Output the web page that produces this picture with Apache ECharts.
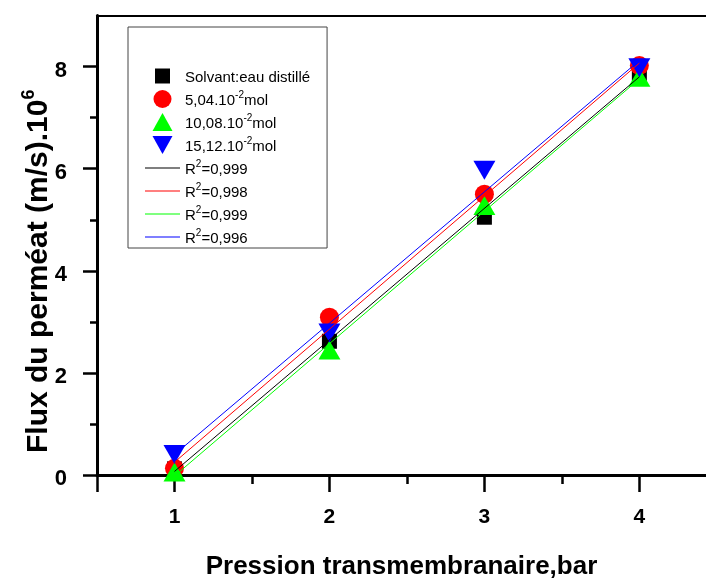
<!DOCTYPE html>
<html>

<head>
    <meta charset="utf-8">
    <title>Flux du perméat</title>
    <script src="https://cdn.jsdelivr.net/npm/echarts@6/dist/echarts.min.js"></script>
    <style>
        html, body { margin: 0; padding: 0; background: #fff; }
        #chart { width: 706px; height: 578px; }
    </style>
</head>

<body>
    <div id="chart"></div>

    <script type="text/javascript">
        // pressure (bar) and measured flux (m/s).10^6
        var pressure = [1, 2, 3, 4];
        var fluxSolvant = [0.12, 2.62, 5.05, 7.87];
        var flux504 = [0.13, 3.09, 5.50, 8.02];
        var flux1008 = [0.06, 2.45, 5.28, 7.79];
        var flux1512 = [0.40, 2.78, 5.97, 7.98];

        // fitted lines, values read at p=1 and p=4
        var fitX = [1, 4];
        var fitSolvant = [0.07, 7.80];
        var fit504 = [0.25, 8.07];
        var fit1008 = [-0.02, 7.76];
        var fit1512 = [0.40, 8.12];

        var xTicks = [0.5, 1, 2, 3, 4];
        var xMinorTicks = [1.5, 2.5, 3.5];
        var xLabels = [1, 2, 3, 4];
        var yTicks = [0, 2, 4, 6, 8];
        var yMinorTicks = [1, 3, 5, 7];

        var seriesKeys = ['s0', 's1', 's2', 's3', 'f0', 'f1', 'f2', 'f3'];
        var legendLabels = [
            '{n|Solvant:eau distillé}',
            '{n|5,04.10}{sup|-2}{n|mol}',
            '{n|10,08.10}{sup|-2}{n|mol}',
            '{n|15,12.10}{sup|-2}{n|mol}',
            '{n|R}{sup|2}{n|=0,999}',
            '{n|R}{sup|2}{n|=0,998}',
            '{n|R}{sup|2}{n|=0,999}',
            '{n|R}{sup|2}{n|=0,996}'
        ];
        // legend glyphs (kept to aspect inside the 35x18 icon box)
        var lineIcon = 'path://M0,0H35V1H0Z';
        var legendIcons = [
            'path://M-1.5,-1.5M16.5,16.5M0,0H15V15H0Z',
            'circle',
            'path://M0,18L10,0L20,18Z',
            'path://M0,0L20,0L10,18Z',
            lineIcon, lineIcon, lineIcon, lineIcon
        ];

        function pairs(xs, ys) {
            return xs.map(function (x, i) { return [x, ys[i]]; });
        }

        var FONT = 'Liberation Sans';
        var chart = echarts.init(document.getElementById('chart'), null, { renderer: 'canvas' });

        var option = {
            animation: false,
            backgroundColor: '#fff',
            grid: { left: 97, top: 15.6, bottom: 103, right: 0, outerBoundsMode: 'none' },
            legend: {
                orient: 'vertical',
                left: 128,
                top: 27,
                padding: [40, 17, 2, 17],
                itemWidth: 35,
                itemHeight: 18,
                itemGap: 5,
                symbolKeepAspect: true,
                borderColor: '#444',
                borderWidth: 1,
                backgroundColor: '#fff',
                data: seriesKeys.map(function (k, i) { return { name: k, icon: legendIcons[i] }; }),
                formatter: function (name) {
                    return legendLabels[seriesKeys.indexOf(name)];
                },
                textStyle: {
                    color: '#000',
                    rich: {
                        n: { fontFamily: FONT, fontSize: 15, color: '#000', lineHeight: 18, verticalAlign: 'bottom' },
                        sup: { fontFamily: FONT, fontSize: 10, color: '#000', lineHeight: 18, verticalAlign: 'top' }
                    }
                }
            },
            xAxis: [
                {
                    type: 'value', position: 'bottom', min: 0.5, max: 4.43,
                    name: 'Pression transmembranaire,bar',
                    nameLocation: 'middle', nameGap: 79, nameMoveOverlap: false,
                    nameTextStyle: { fontFamily: FONT, fontWeight: 'bold', fontSize: 26, color: '#000' },
                    axisLine: { show: true, onZero: false, lineStyle: { color: '#000', width: 3 } },
                    axisTick: { show: true, customValues: xTicks, length: 17, lineStyle: { color: '#000', width: 2.5 } },
                    axisLabel: { customValues: xLabels, margin: 32, fontFamily: FONT, fontWeight: 'bold', fontSize: 21, color: '#000' },
                    splitLine: { show: false }
                },
                {
                    type: 'value', position: 'bottom', min: 0.5, max: 4.43,
                    axisLine: { show: false, onZero: false },
                    axisTick: { show: true, customValues: xMinorTicks, length: 9, lineStyle: { color: '#000', width: 2.5 } },
                    axisLabel: { show: false },
                    splitLine: { show: false }
                },
                {
                    type: 'value', position: 'top', min: 0.5, max: 4.43,
                    axisLine: { show: true, onZero: false, lineStyle: { color: '#000', width: 2 } },
                    axisTick: { show: false },
                    axisLabel: { show: false },
                    splitLine: { show: false }
                }
            ],
            yAxis: [
                {
                    type: 'value', position: 'left', min: 0, max: 9,
                    name: '{n|Flux du perméat (m/s).10}{sup|6}',
                    nameLocation: 'middle', nameGap: 43, nameRotate: 90, nameMoveOverlap: false,
                    nameTextStyle: {
                        padding: [0, 52, 0, 0],
                        rich: {
                            n: { fontFamily: FONT, fontWeight: 'bold', fontSize: 30, color: '#000', lineHeight: 34, verticalAlign: 'bottom' },
                            sup: { fontFamily: FONT, fontWeight: 'bold', fontSize: 18, color: '#000', lineHeight: 34, verticalAlign: 'top' }
                        }
                    },
                    axisLine: { show: true, onZero: false, lineStyle: { color: '#000', width: 3 } },
                    axisTick: { show: true, customValues: yTicks, length: 14, lineStyle: { color: '#000', width: 2.5 } },
                    axisLabel: { customValues: yTicks, margin: 30, verticalAlign: 'top', lineHeight: 8, fontFamily: FONT, fontWeight: 'bold', fontSize: 22, color: '#000' },
                    splitLine: { show: false }
                },
                {
                    type: 'value', position: 'left', min: 0, max: 9,
                    axisLine: { show: false, onZero: false },
                    axisTick: { show: true, customValues: yMinorTicks, length: 7, lineStyle: { color: '#000', width: 2.5 } },
                    axisLabel: { show: false },
                    splitLine: { show: false }
                }
            ],
            series: [
                { name: 's0', type: 'scatter', symbol: 'rect', symbolSize: 15, itemStyle: { color: '#000000', opacity: 1 }, data: pairs(pressure, fluxSolvant) },
                { name: 's1', type: 'scatter', symbol: 'circle', symbolSize: 19, itemStyle: { color: '#ff0000', opacity: 1 }, data: pairs(pressure, flux504) },
                { name: 's2', type: 'scatter', symbol: 'triangle', symbolSize: [22, 19], itemStyle: { color: '#00ff00', opacity: 1 }, data: pairs(pressure, flux1008) },
                { name: 's3', type: 'scatter', symbol: 'triangle', symbolRotate: 180, symbolSize: [22, 19], itemStyle: { color: '#0000ff', opacity: 1 }, data: pairs(pressure, flux1512) },
                { name: 'f0', type: 'line', symbol: 'none', lineStyle: { color: '#000000', width: 1 }, itemStyle: { color: '#000000' }, data: pairs(fitX, fitSolvant) },
                { name: 'f1', type: 'line', symbol: 'none', lineStyle: { color: '#ff0000', width: 1 }, itemStyle: { color: '#ff0000' }, data: pairs(fitX, fit504) },
                { name: 'f2', type: 'line', symbol: 'none', lineStyle: { color: '#00ff00', width: 1 }, itemStyle: { color: '#00ff00' }, data: pairs(fitX, fit1008) },
                { name: 'f3', type: 'line', symbol: 'none', lineStyle: { color: '#0000ff', width: 1 }, itemStyle: { color: '#0000ff' }, data: pairs(fitX, fit1512) }
            ]
        };

        chart.setOption(option);
    </script>
</body>

</html>
